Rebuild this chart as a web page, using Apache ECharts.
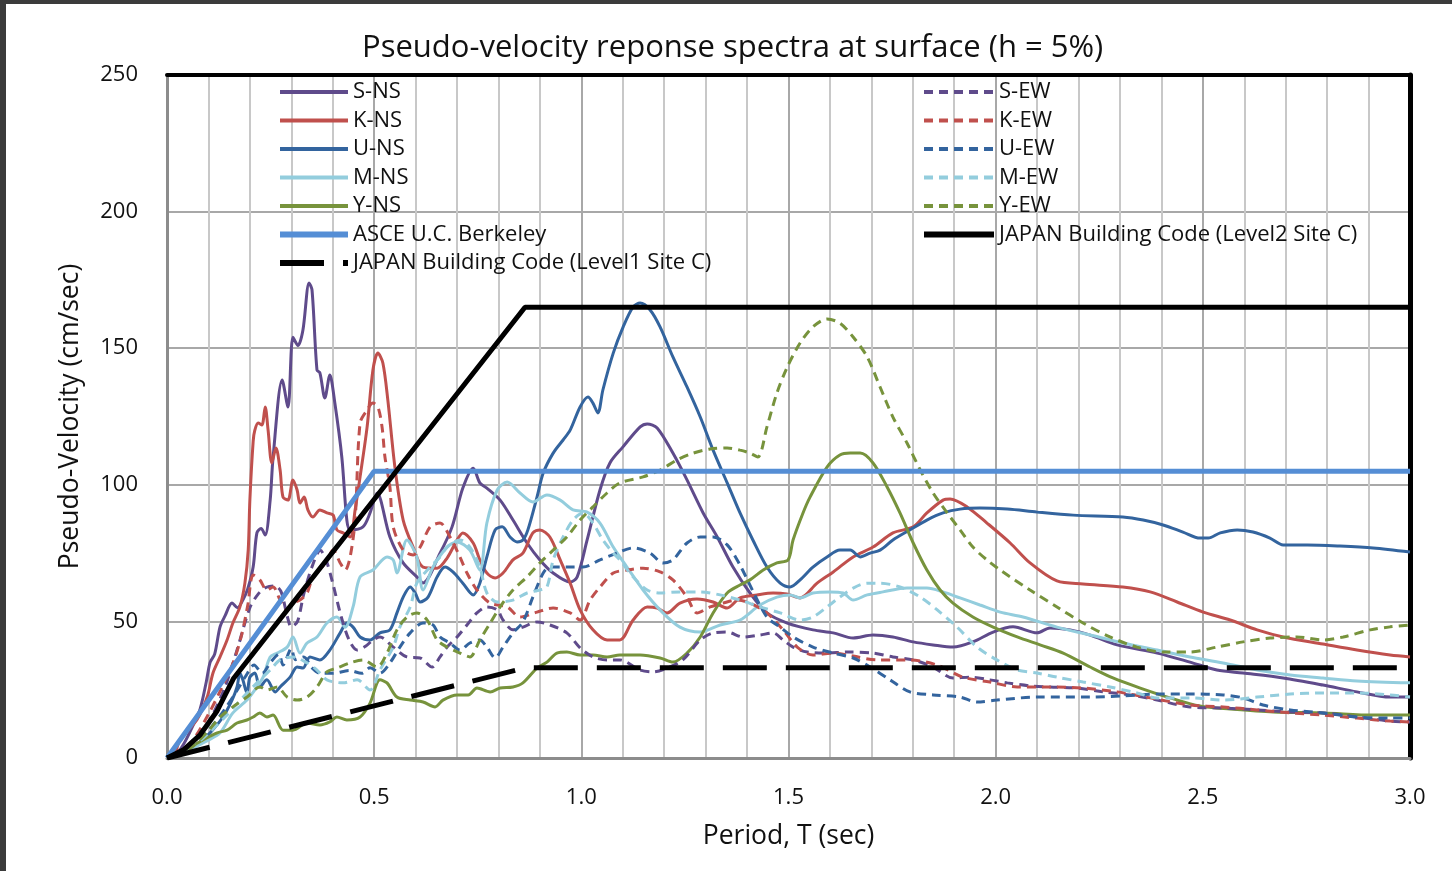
<!DOCTYPE html>
<html><head><meta charset="utf-8">
<script src="https://cdn.jsdelivr.net/npm/echarts@6/dist/echarts.min.js"></script>
<style>
html,body{margin:0;padding:0;background:#3b3b3b;width:1452px;height:871px;overflow:hidden}
#c{position:absolute;left:6px;top:4px;width:1446px;height:867px;background:#fff}
</style></head><body><div id="c"></div>
<script>
const xTicks = ['0.0','0.5','1.0','1.5','2.0','2.5','3.0'];
const yTicks = [0,50,100,150,200,250];

const S_NS = [[0.02,0.5],[0.04,5],[0.06,11],[0.08,18],[0.095,28],[0.104,35],[0.115,38],[0.128,48],[0.14,52],[0.157,56.7],[0.17,55],[0.183,57.8],[0.195,62],[0.208,70],[0.217,82.4],[0.227,84],[0.237,81.6],[0.249,94.4],[0.256,110],[0.278,138.4],[0.292,128.5],[0.304,154],[0.316,151],[0.328,156.6],[0.343,173.9],[0.35,171.3],[0.362,142],[0.369,141],[0.381,131.8],[0.393,140.2],[0.405,130],[0.422,110],[0.434,87.1],[0.442,83.5],[0.473,84.6],[0.49,89.7],[0.507,97],[0.538,80.9],[0.57,71.4],[0.603,66.3],[0.618,64.1],[0.659,75],[0.688,84.6],[0.714,98.8],[0.739,106.1],[0.755,100.7],[0.772,98.8],[0.804,94.4],[0.835,87.1],[0.869,78.7],[0.9,72.5],[0.932,67.7],[0.973,64.4],[0.99,66.3],[1.014,79.8],[1.045,98.1],[1.069,108],[1.1,113.8],[1.142,121.2],[1.159,122.3],[1.183,120.8],[1.221,111.6],[1.255,101.8],[1.294,89.7],[1.328,80.9],[1.366,69.9],[1.407,60.4],[1.448,53.1],[1.497,49.4],[1.559,46.9],[1.608,45.8],[1.656,43.9],[1.704,45],[1.752,44.3],[1.801,42.5],[1.849,41.4],[1.897,40.6],[1.945,42.5],[1.994,46.1],[2.042,48],[2.1,45.8],[2.131,47.6],[2.18,46.9],[2.228,45],[2.293,41.4],[2.39,38.4],[2.469,35.1],[2.534,32.2],[2.597,31.1],[2.694,29.3],[2.79,26.7],[2.872,24.2],[2.952,22.3],[3.0,22.3]];

const K_NS = [[0.02,0.5],[0.031,6.6],[0.072,13.9],[0.097,22.3],[0.111,31.1],[0.128,37],[0.145,43.2],[0.159,49.4],[0.176,55.3],[0.188,64],[0.196,76.1],[0.2,94.4],[0.208,116],[0.212,120],[0.22,122.6],[0.229,121.9],[0.237,128.5],[0.244,120],[0.253,108],[0.263,113.5],[0.273,105.4],[0.28,95.5],[0.292,94.4],[0.304,101.8],[0.314,98.1],[0.321,93.3],[0.331,95.5],[0.34,90.8],[0.352,88.2],[0.369,90.8],[0.386,89.7],[0.401,88.9],[0.41,83.5],[0.425,82.4],[0.442,80.9],[0.454,90.8],[0.466,102.9],[0.483,121.2],[0.497,142],[0.509,148.2],[0.521,144.6],[0.533,131],[0.55,106.5],[0.57,87.1],[0.594,77.2],[0.618,69.9],[0.652,69.5],[0.676,73.2],[0.7,79.8],[0.714,82.4],[0.739,78.7],[0.755,72.5],[0.772,67.7],[0.792,65.9],[0.811,67.7],[0.835,72.5],[0.859,75],[0.883,82.4],[0.9,83.5],[0.924,80.9],[0.949,72.5],[0.973,64],[0.997,54.2],[1.028,46.9],[1.062,43.2],[1.093,43.2],[1.125,50.5],[1.159,55.3],[1.183,54.9],[1.207,53.1],[1.238,56.7],[1.279,58.2],[1.318,57.1],[1.352,54.9],[1.383,58.6],[1.424,59.7],[1.463,60.4],[1.496,60],[1.528,58.6],[1.569,64],[1.608,68.1],[1.656,73.6],[1.704,77.2],[1.752,82.4],[1.801,84.6],[1.834,89.7],[1.873,94.4],[1.89,94.8],[1.931,91.9],[1.979,86],[2.035,78.7],[2.083,71.4],[2.148,64.8],[2.211,63.7],[2.307,62.6],[2.373,60.8],[2.438,57.1],[2.501,53.4],[2.566,50.5],[2.631,46.9],[2.694,44.3],[2.79,41.7],[2.872,39.5],[2.952,37.7],[3.0,37]];

const U_NS = [[0.02,0.5],[0.05,3],[0.08,6],[0.104,9.2],[0.135,15],[0.157,21.2],[0.169,26],[0.176,31.1],[0.183,28.6],[0.193,23.8],[0.2,29.6],[0.212,31.1],[0.224,26],[0.241,28.6],[0.261,24.2],[0.273,26],[0.297,29.6],[0.314,33.3],[0.328,32.9],[0.345,37],[0.369,35.9],[0.393,39.5],[0.418,45.8],[0.434,49.4],[0.449,47.9],[0.466,44.3],[0.49,43.2],[0.514,45.8],[0.538,46.9],[0.555,53.1],[0.57,58.9],[0.587,62.6],[0.599,60.4],[0.611,57.1],[0.63,58.9],[0.652,66.3],[0.671,69.9],[0.69,68.1],[0.714,64],[0.739,59.7],[0.755,64],[0.772,73.6],[0.792,83.5],[0.809,84.6],[0.828,80.9],[0.845,79.1],[0.859,79.8],[0.871,83.5],[0.893,95.5],[0.908,104.3],[0.932,111.6],[0.956,116.4],[0.973,120],[0.997,128.5],[1.016,132.1],[1.028,129.9],[1.04,126.3],[1.052,134.7],[1.077,148.2],[1.101,157.8],[1.125,165.1],[1.142,166.5],[1.166,164],[1.19,157.8],[1.221,146.8],[1.255,135.8],[1.287,124.8],[1.318,112.7],[1.352,100.7],[1.383,89.7],[1.414,79.8],[1.448,69.9],[1.48,64],[1.504,62.6],[1.528,65.2],[1.559,69.9],[1.593,73.6],[1.624,76.1],[1.649,76.1],[1.673,73.6],[1.697,75],[1.721,76.1],[1.752,79.8],[1.793,83.5],[1.834,87.1],[1.873,89.7],[1.914,91.1],[1.962,91.5],[2.028,91.1],[2.1,90],[2.187,88.9],[2.307,88.2],[2.356,87.1],[2.404,85.3],[2.452,82.7],[2.493,80.5],[2.513,80.5],[2.542,82.4],[2.583,83.5],[2.621,82.7],[2.662,80.5],[2.694,78],[2.752,78],[2.831,77.6],[2.911,76.9],[3.0,75.4]];

const M_NS = [[0.02,0.5],[0.06,3.5],[0.1,6.5],[0.128,9.2],[0.159,16.5],[0.193,21.2],[0.217,26],[0.232,29.6],[0.249,37],[0.266,38.4],[0.29,40.6],[0.304,44.3],[0.321,38.4],[0.338,42.1],[0.362,44.3],[0.386,49.4],[0.41,51.6],[0.43,47.9],[0.449,55.3],[0.466,66.3],[0.497,68.8],[0.531,73.6],[0.546,72.5],[0.555,67.7],[0.579,79.8],[0.603,73.6],[0.618,61.5],[0.642,69.9],[0.676,77.2],[0.7,79.1],[0.731,76.1],[0.755,68.8],[0.772,86],[0.797,98.1],[0.821,101],[0.852,97],[0.883,93.7],[0.917,96.3],[0.949,94.4],[0.98,90.8],[1.014,90],[1.045,86],[1.077,77.2],[1.11,69.9],[1.149,61.5],[1.19,54.2],[1.238,47.9],[1.287,46.1],[1.335,48.7],[1.383,50.5],[1.431,56],[1.472,58.9],[1.504,59.7],[1.528,58.6],[1.559,60.4],[1.6,60.8],[1.632,60.4],[1.656,57.8],[1.69,59.7],[1.728,60.8],[1.786,62.2],[1.834,62.2],[1.873,60.8],[1.914,58.6],[1.962,56],[2.011,53.4],[2.066,51.6],[2.148,47.9],[2.228,45],[2.307,42.1],[2.39,39.5],[2.469,37],[2.549,34.8],[2.631,32.2],[2.711,30.4],[2.79,29.3],[2.872,28.2],[3.0,27.5]];

const Y_NS = [[0.02,0.3],[0.031,1.8],[0.087,6.6],[0.121,9.2],[0.145,10.2],[0.169,12.8],[0.193,13.9],[0.208,15],[0.224,16.5],[0.241,15],[0.256,15.7],[0.28,10.2],[0.304,10.2],[0.338,12.8],[0.369,12.1],[0.393,13.2],[0.41,15],[0.434,13.9],[0.466,15],[0.49,20.1],[0.514,28.6],[0.531,27.5],[0.555,22.3],[0.587,21.2],[0.618,20.5],[0.647,18.7],[0.666,21.2],[0.7,23.1],[0.727,23.1],[0.748,25.6],[0.78,24.2],[0.804,25.6],[0.835,26],[0.859,27.5],[0.893,32.9],[0.917,35.1],[0.941,38.4],[0.965,38.8],[0.997,37.7],[1.028,37.7],[1.062,37],[1.093,37.7],[1.142,37.7],[1.19,36.6],[1.221,35.1],[1.255,38.4],[1.287,44.3],[1.318,53.1],[1.352,60.4],[1.383,63.3],[1.407,65.2],[1.439,68.8],[1.472,71.4],[1.499,72.5],[1.511,79.8],[1.535,89.7],[1.552,95.5],[1.593,106.5],[1.624,110.9],[1.649,111.6],[1.673,111.6],[1.704,108],[1.738,99.2],[1.769,89.7],[1.801,78.7],[1.834,68.8],[1.866,61.5],[1.897,56.7],[1.945,51.6],[1.994,47.9],[2.052,44.3],[2.107,41.4],[2.163,38.4],[2.228,33.3],[2.283,29.3],[2.349,25.6],[2.421,22],[2.493,19],[2.566,17.9],[2.67,16.8],[2.79,16.5],[2.911,15.7],[3.0,15.7]];

const S_EW = [[0.02,0.5],[0.06,5],[0.1,13],[0.14,26],[0.17,40],[0.2,55],[0.22,60],[0.24,62.5],[0.26,63],[0.275,61],[0.29,52],[0.3,48],[0.315,50],[0.33,60],[0.35,70],[0.37,76],[0.385,72],[0.4,64],[0.42,52],[0.44,43],[0.459,39.5],[0.48,41],[0.497,43.2],[0.514,44.3],[0.546,40.6],[0.579,37],[0.611,36.6],[0.64,33.3],[0.659,37],[0.676,40.6],[0.7,44.3],[0.724,48.7],[0.748,53.1],[0.772,55.3],[0.797,54.2],[0.811,50.5],[0.835,46.9],[0.859,47.9],[0.893,49.8],[0.924,48.7],[0.965,45.8],[0.997,40.3],[1.028,37],[1.062,35.9],[1.093,35.9],[1.142,32.2],[1.173,31.5],[1.207,32.9],[1.245,35.9],[1.287,43.2],[1.318,45.8],[1.352,46.1],[1.39,44.3],[1.431,45],[1.463,45.8],[1.487,43.2],[1.511,40.6],[1.545,38.8],[1.593,38.4],[1.641,38.8],[1.704,38.4],[1.752,37],[1.801,35.9],[1.849,33.3],[1.897,29.3],[1.938,29.6],[1.986,28.6],[2.028,27.5],[2.083,26.4],[2.131,26],[2.196,25.6],[2.259,24.2],[2.324,23.1],[2.39,21.2],[2.469,18.7],[2.549,18.3],[2.631,17.6],[2.711,16.8],[2.79,16.5],[2.872,15],[2.952,13.5],[3.0,13.2]];

const K_EW = [[0.02,0.5],[0.06,6],[0.1,16],[0.13,25],[0.16,35],[0.18,45],[0.195,56],[0.208,67],[0.224,65.2],[0.241,61.5],[0.256,62.6],[0.273,57.8],[0.29,54.2],[0.304,56.7],[0.321,57.8],[0.338,60.4],[0.352,66.3],[0.369,68.8],[0.386,72.5],[0.401,76.1],[0.418,71.4],[0.43,68.8],[0.442,73.6],[0.454,87.1],[0.466,122.6],[0.483,127.4],[0.497,129.9],[0.509,128.5],[0.519,121.2],[0.526,110.2],[0.538,99.2],[0.546,84.6],[0.57,76.1],[0.594,74.3],[0.611,77.2],[0.635,84.6],[0.659,86],[0.683,80.9],[0.707,73.6],[0.724,67.7],[0.748,61.5],[0.78,56.7],[0.821,55.3],[0.852,51.6],[0.893,53.4],[0.932,54.9],[0.973,53.1],[0.997,50.5],[1.021,57.8],[1.045,62.6],[1.077,67.7],[1.11,68.8],[1.149,69.5],[1.19,68.1],[1.221,65.2],[1.255,58.9],[1.279,53.1],[1.311,55.3],[1.342,56.7],[1.376,57.8],[1.407,56.7],[1.448,53.1],[1.487,46.9],[1.521,40.6],[1.559,37.7],[1.608,38.4],[1.656,37.3],[1.714,35.9],[1.793,35.9],[1.859,34],[1.921,29.6],[1.986,27.8],[2.052,26],[2.131,26],[2.211,25.6],[2.293,24.2],[2.373,22],[2.469,19.4],[2.549,18.7],[2.631,17.6],[2.711,16.5],[2.79,15.7],[2.872,14.6],[2.952,13.5],[3.0,13.2]];

const U_EW = [[0.02,0.5],[0.06,4],[0.1,10],[0.14,18],[0.17,25],[0.19,30],[0.21,34],[0.23,31],[0.25,35],[0.27,38],[0.28,34],[0.3,40],[0.31,36],[0.33,37],[0.35,33],[0.37,31],[0.4,31],[0.44,32],[0.47,31],[0.49,33],[0.514,31.1],[0.538,34.8],[0.562,40.6],[0.587,45.8],[0.618,49.4],[0.642,48.7],[0.659,44.3],[0.683,42.1],[0.707,39.5],[0.731,42.1],[0.755,43.2],[0.772,40.6],[0.792,36.6],[0.811,40.6],[0.835,45.8],[0.859,49.8],[0.883,58.9],[0.908,67.7],[0.924,69.9],[0.965,69.9],[1.004,69.9],[1.045,72.5],[1.086,75],[1.125,76.9],[1.166,75],[1.197,71.4],[1.221,72.5],[1.255,78.7],[1.287,80.9],[1.318,80.9],[1.352,78],[1.383,70.6],[1.414,61.1],[1.448,51.6],[1.48,47.9],[1.511,44.3],[1.559,40.6],[1.608,38.4],[1.656,36.6],[1.697,33.3],[1.745,28.6],[1.793,24.2],[1.849,23.1],[1.914,22.3],[1.955,20.5],[2.003,21.2],[2.1,22.3],[2.228,22.3],[2.307,22.7],[2.39,23.4],[2.469,23.4],[2.549,23.1],[2.597,22],[2.645,19.4],[2.711,17.6],[2.79,16.5],[2.872,15],[2.952,14.6],[3.0,14.6]];

const M_EW = [[0.02,0.5],[0.06,4],[0.1,9],[0.14,15],[0.17,20],[0.193,23.8],[0.217,27.5],[0.249,32.2],[0.273,35.9],[0.304,37],[0.338,34.8],[0.362,32.2],[0.386,28.6],[0.425,27.5],[0.459,28.6],[0.49,24.9],[0.514,32.2],[0.546,40.6],[0.562,47.9],[0.587,55.3],[0.603,64],[0.635,69.9],[0.659,73.6],[0.676,77.2],[0.707,79.8],[0.731,77.2],[0.755,69.9],[0.772,60.4],[0.797,57.1],[0.835,57.8],[0.869,60.4],[0.9,61.5],[0.917,62.6],[0.932,72.5],[0.956,80.9],[0.98,87.1],[1.004,89.7],[1.028,86],[1.052,79.8],[1.077,75],[1.093,72.5],[1.125,66.3],[1.159,61.5],[1.19,60.4],[1.238,60.8],[1.287,60.8],[1.335,59.7],[1.383,57.8],[1.431,55.3],[1.48,53.1],[1.528,50.5],[1.559,51.6],[1.593,55.3],[1.624,58.9],[1.656,62.2],[1.69,64],[1.721,64],[1.769,62.6],[1.818,58.9],[1.859,54.2],[1.907,47.9],[1.955,40.6],[2.003,35.9],[2.052,32.2],[2.1,31.1],[2.148,29.6],[2.211,27.8],[2.276,26],[2.341,23.8],[2.39,22],[2.469,22],[2.549,21.2],[2.631,22.3],[2.711,23.4],[2.79,23.8],[2.872,23.8],[2.952,23.1],[3.0,22.3]];

const Y_EW = [[0.02,0.5],[0.06,4],[0.1,10],[0.128,15],[0.159,18.7],[0.193,22.3],[0.224,26],[0.241,24.9],[0.266,26],[0.29,22.3],[0.314,21.2],[0.338,22.3],[0.362,26],[0.386,31.5],[0.41,32.9],[0.442,34.8],[0.473,35.9],[0.507,33.3],[0.531,38.4],[0.555,46.9],[0.579,51.6],[0.603,53.1],[0.628,50.5],[0.652,43.2],[0.676,40.6],[0.707,38.4],[0.731,37],[0.755,43.2],[0.78,49.4],[0.804,55.3],[0.835,61.5],[0.869,66.3],[0.9,71.4],[0.932,76.1],[0.965,80.9],[0.997,87.1],[1.028,91.9],[1.062,97],[1.093,100.7],[1.149,102.9],[1.19,105.4],[1.231,109.1],[1.27,111.6],[1.311,113.1],[1.352,113.5],[1.383,112.7],[1.407,111.6],[1.426,110.2],[1.448,121.2],[1.472,133.6],[1.497,143.1],[1.528,151.9],[1.559,157.8],[1.593,160.7],[1.624,159.2],[1.656,154.1],[1.69,146.8],[1.721,135.8],[1.752,124.8],[1.786,115.3],[1.818,105.4],[1.849,97],[1.883,89.7],[1.914,83.5],[1.945,77.2],[1.979,72.5],[2.011,68.8],[2.083,61.5],[2.148,55.3],[2.211,49.4],[2.276,44.3],[2.341,40.6],[2.404,38.8],[2.469,38.8],[2.534,40.6],[2.597,42.5],[2.662,43.9],[2.727,44.3],[2.79,43.2],[2.839,44.3],[2.904,46.9],[2.952,48],[3.0,48.7]];

const ASCE = [[0,0],[0.5,105],[3.0,105]];
const JP_L2 = [[0,0],[0.04,3],[0.08,8.5],[0.12,17],[0.16,29],[0.864,165],[3.0,165]];
const JP_L1 = [[0,0],[0.864,33],[3.0,33]];

const FONT = '"Open Sans"';
const DASH = [9,6];
function ser(name, data, color, dashed) {
  return {name, type:'line', data, smooth:0.3, symbol:'none', z:2,
    lineStyle:{color, width:3, type: dashed ? DASH : 'solid'}, itemStyle:{color}};
}
const series = [
  ser('S-NS', S_NS, '#5f4b8b', false),
  ser('K-NS', K_NS, '#c0504d', false),
  ser('U-NS', U_NS, '#33649e', false),
  ser('M-NS', M_NS, '#93cddd', false),
  ser('Y-NS', Y_NS, '#77933c', false),
  ser('S-EW', S_EW, '#5f4b8b', true),
  ser('K-EW', K_EW, '#c0504d', true),
  ser('U-EW', U_EW, '#33649e', true),
  ser('M-EW', M_EW, '#93cddd', true),
  ser('Y-EW', Y_EW, '#77933c', true),
  {name:'ASCE U.C. Berkeley', type:'line', data:ASCE, symbol:'none', z:3,
    lineStyle:{color:'#558ed5', width:5}, itemStyle:{color:'#558ed5'}},
  {name:'JAPAN Building Code (Level1 Site C)', type:'line', data:JP_L1, symbol:'none', z:3,
    lineStyle:{color:'#000', width:5, type:[44,19]}, itemStyle:{color:'#000'}},
  {name:'JAPAN Building Code (Level2 Site C)', type:'line', data:JP_L2, symbol:'none', z:3,
    lineStyle:{color:'#000', width:5}, itemStyle:{color:'#000'}}
];

const legendText = {fontFamily:FONT, fontSize:22, color:'#111', lineHeight:20};
const legendBase = {orient:'vertical', top:77, padding:0, itemHeight:14, itemGap:6.5,
  textStyle:legendText, selectedMode:false, itemStyle:{opacity:0}, lineStyle:{width:4}};
const thick = n => ({name:n, lineStyle:{width:6}});
const chart = echarts.init(document.getElementById('c'), null, {renderer:'canvas'});
chart.setOption({
  animation:false,
  backgroundColor:'#fff',
  title:{text:'Pseudo-velocity reponse spectra at surface (h = 5%)', left:351, top:24,
    textStyle:{fontFamily:FONT, fontSize:31, fontWeight:'normal', color:'#111'}},
  grid:{left:161, top:71, right:42, bottom:113, show:false},
  legend:[
    Object.assign({}, legendBase, {left:271, itemWidth:68,
      data:['S-NS','K-NS','U-NS','M-NS','Y-NS',thick('ASCE U.C. Berkeley'),thick('JAPAN Building Code (Level1 Site C)')]}),
    Object.assign({}, legendBase, {left:915, itemWidth:70,
      data:['S-EW','K-EW','U-EW','M-EW','Y-EW',thick('JAPAN Building Code (Level2 Site C)')]})
  ],
  xAxis:[{type:'value', min:0, max:3, interval:0.1,
    name:'Period, T (sec)', nameLocation:'middle', nameGap:65,
    nameTextStyle:{fontFamily:FONT, fontSize:26.5, color:'#111'},
    axisLine:{show:true, onZero:false, lineStyle:{color:'#8c8c8c', width:3}},
    axisTick:{show:false},
    axisLabel:{margin:29, fontFamily:FONT, fontSize:22, color:'#111',
      formatter:v=>{const r=Math.round(v*10); return r%5===0 ? xTicks[r/5] : '';}},
    splitLine:{show:true, lineStyle:{color:['#a8a8a8','#c8c8c8','#c8c8c8','#c8c8c8','#c8c8c8'], width:2}}
  },{type:'value', min:0, max:3, position:'top',
    axisLine:{show:true, onZero:false, lineStyle:{color:'#000', width:4}},
    axisTick:{show:false}, axisLabel:{show:false}, splitLine:{show:false}}],
  yAxis:[{type:'value', min:0, max:250, interval:50,
    name:'Pseudo-Velocity (cm/sec)', nameLocation:'middle', nameGap:83,
    nameTextStyle:{fontFamily:FONT, fontSize:26.5, color:'#111'},
    axisLine:{show:true, lineStyle:{color:'#8c8c8c', width:3}},
    axisTick:{show:false},
    axisLabel:{margin:29, fontFamily:FONT, fontSize:22, color:'#111',
      formatter:v=> yTicks.includes(v) ? String(v) : ''},
    splitLine:{show:true, lineStyle:{color:'#a8a8a8', width:2}}
  },{type:'value', min:0, max:250, position:'right',
    axisLine:{show:true, onZero:false, lineStyle:{color:'#000', width:5}},
    axisTick:{show:false}, axisLabel:{show:false}, splitLine:{show:false}}],
  series
});
</script></body></html>
